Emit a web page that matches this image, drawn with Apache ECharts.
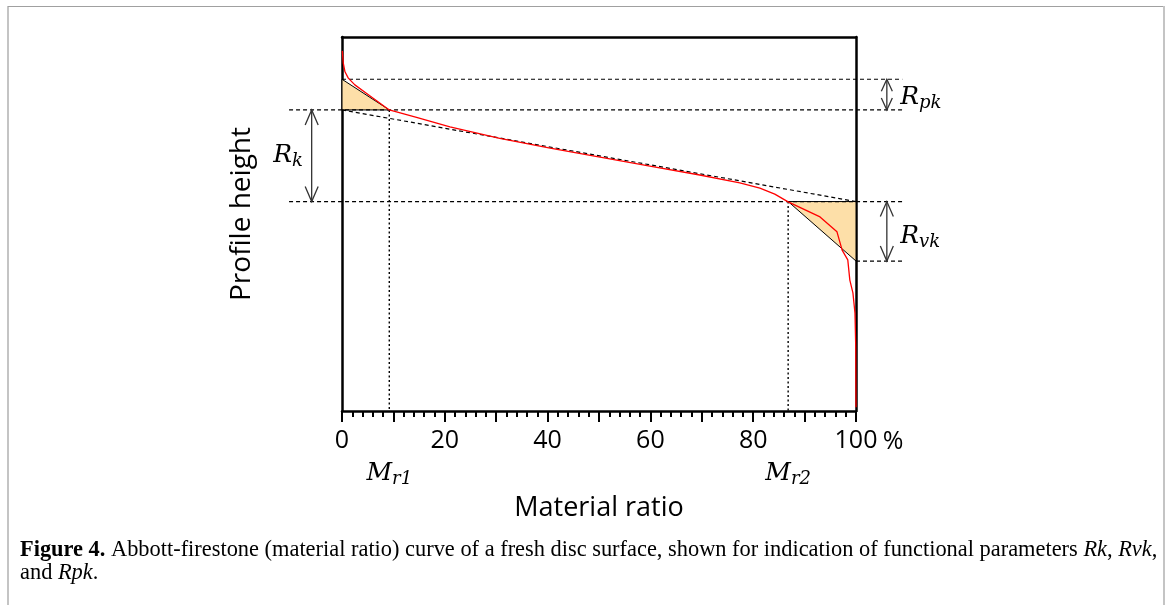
<!DOCTYPE html>
<html><head><meta charset="utf-8">
<script src="https://cdn.jsdelivr.net/npm/echarts@6/dist/echarts.min.js"></script>
<style>html,body{margin:0;padding:0;background:#fff}#c{width:1169px;height:605px}</style>
</head><body><div id="c"></div>
<script>
// Abbott-Firestone curve (material ratio %, profile height in arbitrary units 0..100)
const ratio  = [0.06, 0.25, 0.58, 1.23, 2.5, 4.8, 7.4, 9.2, 14.5, 21.0, 30.7, 40.5, 50.2, 59.9, 69.6, 77.4, 81.3, 84.2, 86.8, 93.0, 96.3, 97.3, 98.4, 98.8, 99.4, 99.8, 99.95, 100];
const height = [96.3, 93.0, 90.7, 89.0, 87.2, 84.9, 82.3, 80.5, 78.5, 76.0, 72.9, 70.3, 67.9, 65.5, 63.1, 61.0, 59.6, 58.0, 55.9, 51.9, 47.9, 43.0, 40.4, 35.0, 31.6, 26.2, 17.1, 1.0];
const xTickLabels = ['0', '20', '40', '60', '80', '100'];
// functional parameter construction
const mr1 = 9.2, mr2 = 86.8;
const rpkTop = 88.7, rkTop = 80.5, rkBottom = 56.0, rvkBottom = 40.1;

// layout (axis-unit positions for annotations outside the plot box)
const guideLeft = -10.3, guideRight = 109;
const rkArrowX = -5.9, sideArrowX = 106.0;
const rkLabelX = -10.5, rkLabelY = 68.4;
const sideLabelX = 108.6, rpkLabelY = 83.9, rvkLabelY = 46.6;
const pctX = 107.2;

const SANS = '"Open Sans", "Noto Sans", sans-serif';
const MATH = '"DejaVu Serif", serif';
const CAP = '"Liberation Serif", serif';

const chart = echarts.init(document.getElementById('c'), null, {renderer: 'canvas'});

function mathLabel(main, sub) {
  return {
    text: '{r|' + main + '}{s|' + sub + '}',
    rich: {
      r: {fontFamily: MATH, fontStyle: 'italic', fontSize: 25, lineHeight: 30, fill: '#000'},
      s: {fontFamily: MATH, fontStyle: 'italic', fontSize: 18, lineHeight: 14, verticalAlign: 'bottom', fill: '#000'}
    }
  };
}

function renderFills(params, api) {
  if (params.dataIndex !== 0) return;
  const c = (x, y) => api.coord([x, y]);
  const st = {fill: '#FDDFA8', stroke: '#000', lineWidth: 1};
  return {type: 'group', children: [
    {type: 'polygon', shape: {points: [c(0, rpkTop), c(0, rkTop), c(mr1, rkTop)]}, style: st},
    {type: 'polygon', shape: {points: [c(mr2, rkBottom), c(100, rkBottom), c(100, rvkBottom)]}, style: st}
  ]};
}

function renderGuides(params, api) {
  if (params.dataIndex !== 0) return;
  const c = (x, y) => api.coord([x, y]);
  const dash = {stroke: '#000', lineWidth: 1.2, lineDash: [4, 3], fill: null};
  const dot = {stroke: '#000', lineWidth: 1.4, lineDash: [2, 2.5], fill: null};
  const arrowSt = {stroke: '#333', lineWidth: 1.3, fill: null};
  const line = (a, b, style) => ({type: 'line', shape: {x1: a[0], y1: a[1], x2: b[0], y2: b[1]}, style: style});
  const kids = [];
  kids.push(line(c(0, rpkTop), c(guideRight, rpkTop), dash));
  kids.push(line(c(guideLeft, rkTop), c(guideRight, rkTop), dash));
  kids.push(line(c(guideLeft, rkBottom), c(guideRight, rkBottom), dash));
  kids.push(line(c(100, rvkBottom), c(guideRight, rvkBottom), dash));
  kids.push(line(c(0, rkTop), c(100, rkBottom), dash));
  kids.push(line(c(mr1, rkTop), c(mr1, 0), dot));
  kids.push(line(c(mr2, rkBottom), c(mr2, 0), dot));
  function dArrow(x, y1, y2, w, l) {
    const a = c(x, y1), b = c(x, y2);
    kids.push(line(a, b, arrowSt));
    kids.push({type: 'polyline', shape: {points: [[a[0] - w, a[1] + l], a, [a[0] + w, a[1] + l]]}, style: arrowSt});
    kids.push({type: 'polyline', shape: {points: [[b[0] - w, b[1] - l], b, [b[0] + w, b[1] - l]]}, style: arrowSt});
  }
  dArrow(rkArrowX, rkTop, rkBottom, 6.5, 15);
  dArrow(sideArrowX, rpkTop, rkTop, 5.5, 12);
  dArrow(sideArrowX, rkBottom, rvkBottom, 6.5, 15);
  const t = (p, lbl, align) => ({type: 'text', x: p[0], y: p[1], style: Object.assign(lbl, {textAlign: align, textVerticalAlign: 'middle'})});
  kids.push(t(c(rkLabelX, rkLabelY), mathLabel('R', 'k'), 'center'));
  kids.push(t(c(sideLabelX, rpkLabelY), mathLabel('R', 'pk'), 'left'));
  kids.push(t(c(sideLabelX, rvkLabelY), mathLabel('R', 'vk'), 'left'));
  const m1 = c(mr1, 0), m2 = c(mr2, 0);
  kids.push(t([m1[0], m1[1] + 62], mathLabel('M', 'r1'), 'center'));
  kids.push(t([m2[0], m2[1] + 62], mathLabel('M', 'r2'), 'center'));
  const pc = c(pctX, 0);
  kids.push({type: 'text', x: pc[0], y: pc[1] + 31, style: {text: '%', fontFamily: SANS, fontSize: 25, fill: '#000', textAlign: 'center', textVerticalAlign: 'middle'}});
  return {type: 'group', children: kids};
}

const boxLine = {show: true, onZero: false, lineStyle: {color: '#000', width: 2.5}};

chart.setOption({
  backgroundColor: '#fff',
  animation: false,
  grid: {left: 342, right: 313, top: 37, bottom: 194, containLabel: false, outerBoundsMode: 'none'},
  xAxis: [{
    type: 'value', min: 0, max: 100, interval: 10, position: 'bottom',
    axisLine: boxLine,
    axisTick: {show: true, inside: false, length: 11, lineStyle: {color: '#000', width: 2}},
    minorTick: {show: true, splitNumber: 5, length: 6, lineStyle: {color: '#000', width: 2}},
    splitLine: {show: false}, minorSplitLine: {show: false},
    axisLabel: {
      margin: 17, color: '#000', fontFamily: SANS, fontSize: 25,
      formatter: v => (v % 20 === 0 ? xTickLabels[v / 20] : '')
    },
    name: 'Material ratio', nameLocation: 'middle', nameGap: 84,
    nameTextStyle: {color: '#000', fontFamily: SANS, fontSize: 27}
  }, {
    type: 'value', min: 0, max: 100, position: 'top',
    axisLine: boxLine, axisTick: {show: false}, axisLabel: {show: false}, splitLine: {show: false}
  }],
  yAxis: [{
    type: 'value', min: 0, max: 100, position: 'left',
    axisLine: boxLine, axisTick: {show: false}, axisLabel: {show: false}, splitLine: {show: false},
    name: 'Profile height', nameLocation: 'middle', nameGap: 86, nameRotate: 90,
    nameTextStyle: {color: '#000', fontFamily: SANS, fontSize: 28, padding: [0, 0, 0, 20]}
  }, {
    type: 'value', min: 0, max: 100, position: 'right',
    axisLine: boxLine, axisTick: {show: false}, axisLabel: {show: false}, splitLine: {show: false}
  }],
  series: [
    {type: 'custom', name: 'fills', renderItem: renderFills, data: [[0, 0]], z: 1, clip: false, silent: true},
    {type: 'line', name: 'curve', data: ratio.map((x, i) => [x, height[i]]), showSymbol: false, symbol: 'none',
     lineStyle: {color: '#FF0000', width: 1.3}, z: 3, silent: true},
    {type: 'custom', name: 'guides', renderItem: renderGuides, data: [[0, 0]], z: 2, clip: false, silent: true}
  ],
  graphic: [
    {type: 'line', shape: {x1: 8, y1: 6, x2: 8, y2: 605}, style: {stroke: '#c4c4c4', lineWidth: 2}},
    {type: 'line', shape: {x1: 8, y1: 6.5, x2: 1164, y2: 6.5}, style: {stroke: '#a0a0a0', lineWidth: 1}},
    {type: 'line', shape: {x1: 1164, y1: 6, x2: 1164, y2: 605}, style: {stroke: '#c4c4c4', lineWidth: 2}},
    {type: 'text', left: 20, top: 539, style: {
      text: '{b|Figure 4.}{n| Abbott-firestone (material ratio) curve of a fresh disc surface, shown for indication of functional parameters }{i|Rk}{n|, }{i|Rvk}{n|,}\n{n|and }{i|Rpk}{n|.}',
      rich: {
        b: {fontFamily: CAP, fontWeight: 'bold', fontSize: 22.4, lineHeight: 23, fill: '#000'},
        n: {fontFamily: CAP, fontSize: 22.4, lineHeight: 23, fill: '#000'},
        i: {fontFamily: CAP, fontStyle: 'italic', fontSize: 22.4, lineHeight: 23, fill: '#000'}
      }
    }}
  ]
});
</script>
</body></html>
